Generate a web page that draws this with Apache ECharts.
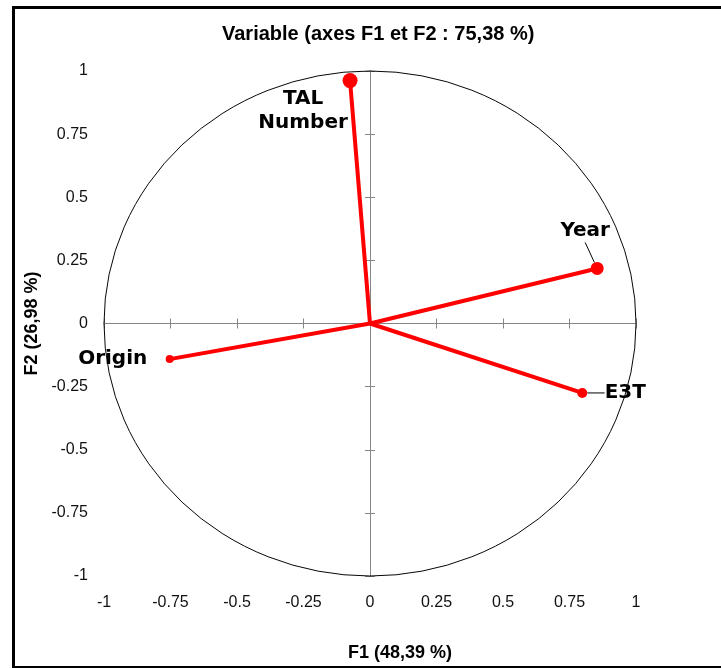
<!DOCTYPE html>
<html>
<head>
<meta charset="utf-8">
<script src="https://cdn.jsdelivr.net/npm/echarts@6/dist/echarts.min.js"></script>
<style>
  html, body { margin: 0; padding: 0; background: #fff; }
  #chart { width: 721px; height: 668px; }
</style>
</head>
<body>
<div id="chart"></div>
<script>
// coordonnées des variables sur F1 / F2
const variables = ["TAL\nNumber", "Year", "E3T", "Origin"];
const f1 = [-0.075, 0.854, 0.798, -0.753];
const f2 = [0.962, 0.218, -0.275, -0.141];
const tickValues = [-1, -0.75, -0.5, -0.25, 0, 0.25, 0.5, 0.75, 1];

// style only: marker sizes and label shifts
const markerSizes = [15, 13, 10, 8];
const labelShifts = [
  { dx: -47, dy: 30, line: false },
  { dx: -12, dy: -38, line: true },
  { dx: 43, dy: 0, line: true },
  { dx: -57, dy: 0, line: false },
];

const font = "'Liberation Sans'";
const tickFont = { color: "#111", fontFamily: font, fontSize: 16 };
const grey = "#868686";

function labelAxis(pos) {
  return {
    type: "value", min: tickValues[0], max: tickValues[tickValues.length - 1], interval: 0.25,
    position: pos,
    axisLine: { show: false, onZero: false },
    axisTick: { show: false },
    splitLine: { show: false },
    axisLabel: Object.assign({ margin: pos === "left" ? 16 : 19 }, tickFont),
  };
}
function lineAxis(pos, inside) {
  return {
    type: "value", min: -1, max: 1, interval: 0.25,
    position: pos,
    axisLine: { show: true, onZero: true, onZeroAxisIndex: 0, lineStyle: { color: grey, width: 1 } },
    axisTick: { show: true, inside: inside, length: 5, lineStyle: { color: grey, width: 1 } },
    splitLine: { show: false },
    axisLabel: { show: false },
  };
}

const xLab = labelAxis("bottom");
xLab.name = "F1 (48,39 %)";
xLab.nameLocation = "middle";
xLab.nameGap = 68;
xLab.nameTextStyle = { fontFamily: font, fontWeight: "bold", fontSize: 18, color: "#000", padding: [0, 0, 0, 60] };

const yLab = labelAxis("left");
yLab.name = "F2 (26,98 %)";
yLab.nameLocation = "middle";
yLab.nameGap = 62;
yLab.nameTextStyle = { fontFamily: font, fontWeight: "bold", fontSize: 18, color: "#000" };

const chart = echarts.init(document.getElementById("chart"));
chart.setOption({
  animation: false,
  backgroundColor: "#fff",
  title: {
    text: "Variable (axes F1 et F2 : 75,38 %)",
    left: 217, top: 19,
    textStyle: { fontFamily: font, fontWeight: "bold", fontSize: 20, color: "#000" },
  },
  graphic: [{
    type: "rect", left: 11, top: 5, z: 100, silent: true,
    shape: { width: 720, height: 660 },
    style: { fill: "none", stroke: "#000", lineWidth: 3 },
  }],
  grid: { left: 104, right: 85, top: 71, bottom: 92 },
  xAxis: [xLab, lineAxis("bottom", true), lineAxis("bottom", false)],
  yAxis: [yLab, lineAxis("left", true), lineAxis("left", false)],
  series: [
    {
      // cercle des corrélations
      type: "custom",
      silent: true,
      data: [[0, 0]],
      renderItem: function (params, api) {
        const c = api.coord([0, 0]);
        const rx = api.coord([1, 0])[0] - c[0];
        const ry = c[1] - api.coord([0, 1])[1];
        return {
          type: "circle", x: c[0], y: c[1], scaleY: ry / rx,
          shape: { cx: 0, cy: 0, r: rx },
          style: { fill: "none", stroke: "#000", lineWidth: 1, strokeNoScale: true },
        };
      },
    },
    {
      type: "lines",
      coordinateSystem: "cartesian2d",
      silent: true,
      lineStyle: { color: "#ff0000", width: 4, opacity: 1 },
      data: variables.map((v, i) => ({ coords: [[0, 0], [f1[i], f2[i]]] })),
    },
    {
      type: "scatter",
      silent: true,
      itemStyle: { color: "#ff0000", opacity: 1 },
      data: variables.map((v, i) => ({
        name: v,
        value: [f1[i], f2[i]],
        symbolSize: markerSizes[i],
        labelLine: { show: labelShifts[i].line, lineStyle: { color: "#000", width: 1 } },
      })),
      label: {
        show: true,
        position: "inside",
        formatter: (p) => p.name,
        fontFamily: "DejaVu Sans",
        fontWeight: "bold",
        fontSize: 20,
        lineHeight: 24,
        color: "#000",
        opacity: 1,
        textBorderWidth: 0,
        align: "center",
      },
      labelLine: { show: true, length2: 0, lineStyle: { color: "#000", width: 1 } },
      labelLayout: (p) => ({ dx: labelShifts[p.dataIndex].dx, dy: labelShifts[p.dataIndex].dy }),
    },
  ],
});
</script>
</body>
</html>
